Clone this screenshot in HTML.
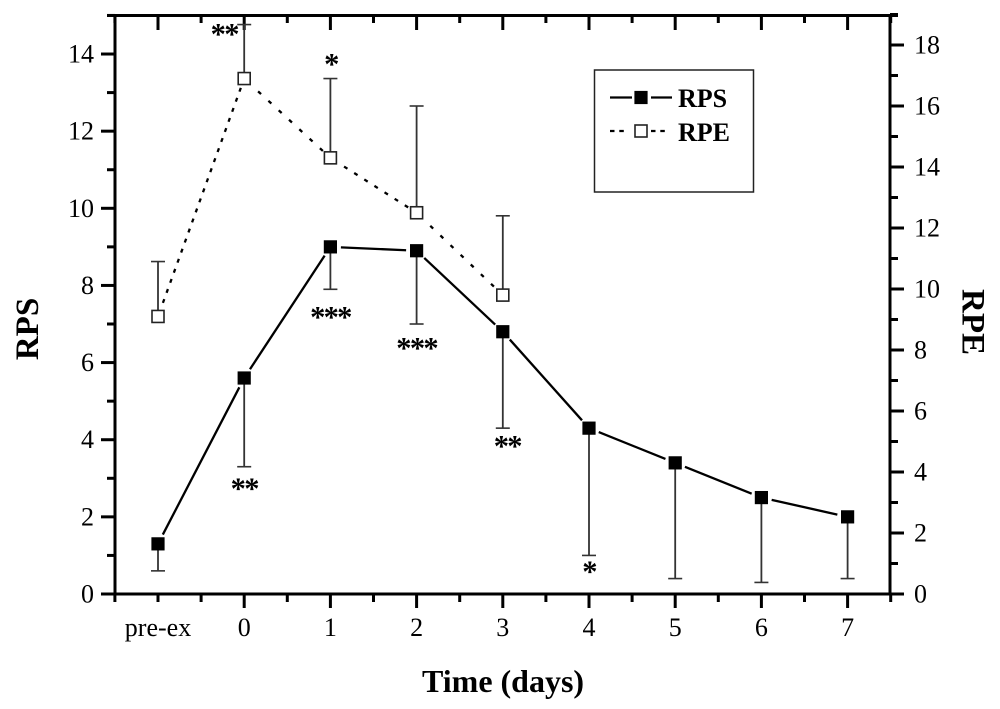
<!DOCTYPE html>
<html lang="en">
<head>
<meta charset="utf-8">
<title>RPS and RPE over time</title>
<style>
html,body{margin:0;padding:0;background:#fff;}
#chart{display:block;width:1000px;height:709px;filter:blur(0.35px);}
text{font-family:"Liberation Serif",serif;fill:#000;}
</style>
</head>
<body>
<svg id="chart" xmlns="http://www.w3.org/2000/svg" width="1000" height="709" viewBox="0 0 1000 709"></svg>
<script>
const categories = ['pre-ex', '0', '1', '2', '3', '4', '5', '6', '7'];
const rpsValues = [1.3, 5.6, 9.0, 8.9, 6.8, 4.3, 3.4, 2.5, 2.0];
const rpsErrorEnds = [0.6, 3.3, 7.9, 7.0, 4.3, 1.0, 0.4, 0.3, 0.4];
const rpeValues = [9.1, 16.9, 14.3, 12.5, 9.8];
const rpeErrorEnds = [10.9, 18.67, 16.9, 16.0, 12.4];
const rpsStarLabels = ['', '**', '***', '***', '**', '*'];
const rpsStarValues = [null, 2.8, 7.25, 6.45, 3.9, 0.65];
const rpeStarLabels = ['', '**', '*'];
const rpeStarValues = [null, 18.45, 17.47];
const leftTicks = [0, 2, 4, 6, 8, 10, 12, 14];
const leftMinorTicks = [1, 3, 5, 7, 9, 11, 13, 15];
const rightTicks = [0, 2, 4, 6, 8, 10, 12, 14, 16, 18];
const rightMinorTicks = [1, 3, 5, 7, 9, 11, 13, 15, 17, 19];

const NS = 'http://www.w3.org/2000/svg';
const svg = document.getElementById('chart');
const plot = { left: 115, right: 890, top: 15, bottom: 594 };
const firstX = 158;
const stepX = 86.2;
const leftScale = 38.57;
const rightScale = 30.5;

function xAt(i) { return firstX + stepX * i; }
function yLeft(v) { return plot.bottom - v * leftScale; }
function yRight(v) { return plot.bottom - v * rightScale; }

function make(tag, attrs, text) {
  const el = document.createElementNS(NS, tag);
  for (const k in attrs) el.setAttribute(k, attrs[k]);
  if (text !== undefined) el.textContent = text;
  svg.appendChild(el);
  return el;
}
function line(x1, y1, x2, y2, width, color, name, dash) {
  const a = { x1: x1, y1: y1, x2: x2, y2: y2, stroke: color, 'stroke-width': width };
  if (dash) a['stroke-dasharray'] = dash;
  const el = make('line', a);
  
  
  return el;
}
function label(x, y, size, weight, anchor, str, name, transform) {
  const a = { x: x, y: y, 'font-size': size, 'font-weight': weight, 'text-anchor': anchor };
  if (transform) a.transform = transform;
  const el = make('text', a, str);
  
  
  return el;
}
function segment(x1, y1, x2, y2, startGap, endGap, width, name, dash) {
  const dx = x2 - x1, dy = y2 - y1, d = Math.hypot(dx, dy);
  if (d <= startGap + endGap) return;
  const ux = dx / d, uy = dy / d;
  line(x1 + ux * startGap, y1 + uy * startGap, x2 - ux * endGap, y2 - uy * endGap, width, '#000', name, dash);
}
function dashedSegment(x1, y1, x2, y2, name) {
  const slope = Math.abs((y2 - y1) / (x2 - x1));
  const period = slope > 2 ? 10.7 : (slope > 0.8 ? 14 : 12);
  segment(x1, y1, x2, y2, period * 1.35, 9, 2.3, name, '4 ' + (period - 4));
}
function errorBar(x, y1, y2, name) {
  line(x, y1, x, y2, 1.8, '#333', name);
  line(x - 7, y2, x + 7, y2, 1.6, '#333', name + '-cap');
}
function filledMarker(x, y, name) {
  const el = make('rect', { x: x - 6.6, y: y - 6.6, width: 13.2, height: 13.2, fill: '#000' });
  
  
}
function openMarker(x, y, name) {
  const el = make('rect', { x: x - 6, y: y - 6, width: 12, height: 12, fill: '#fff', stroke: '#222', 'stroke-width': 1.6 });
  
  
}
function stars(x, y, str, name) {
  const el = label(x, y + 12.6, 30.5, 'bold', 'middle', str, name);
  el.setAttribute('letter-spacing', '-1.7');
}

/* axes frame */
line(plot.left, plot.top - 1, plot.left, plot.bottom + 1, 3, '#000', 'left-axis');
line(plot.right, plot.top - 1, plot.right, plot.bottom + 1, 3, '#000', 'right-axis');
line(plot.left - 8, plot.top + 0.5, plot.right + 8, plot.top + 0.5, 3, '#000', 'top-axis');
line(plot.left - 2, plot.bottom, plot.right + 2, plot.bottom, 3, '#000', 'bottom-axis');

/* left axis ticks */
leftTicks.forEach(function (v) {
  const y = yLeft(v);
  line(plot.left - 14, y, plot.left, y, 3, '#000', 'left-major-tick');
  label(plot.left - 21, y + 8.5, 26, 'normal', 'end', String(v), 'left-tick-label');
});
leftMinorTicks.forEach(function (v) {
  const y = yLeft(v);
  line(plot.left - 8, y, plot.left, y, 3, '#000', 'left-minor-tick');
});

/* right axis ticks */
rightTicks.forEach(function (v) {
  const y = yRight(v);
  line(plot.right, y, plot.right + 14, y, 3, '#000', 'right-major-tick');
  label(plot.right + 24, y + 8.5, 26, 'normal', 'start', String(v), 'right-tick-label');
});
rightMinorTicks.forEach(function (v) {
  const y = yRight(v);
  line(plot.right, y, plot.right + 8, y, 3, '#000', 'right-minor-tick');
});

/* x axis ticks */
categories.forEach(function (c, i) {
  const x = xAt(i);
  line(x, plot.bottom, x, plot.bottom + (i === 0 ? 8 : 14), 3, '#000', 'bottom-major-tick');
  line(x, plot.top, x, plot.top + 15, 3, '#000', 'top-major-tick');
  label(x, 636, 26, 'normal', 'middle', c, 'x-tick-label');
});
for (let i = -0.5; i < categories.length; i += 1) {
  const x = xAt(i);
  line(x, plot.bottom, x, plot.bottom + 8, 3, '#000', 'bottom-minor-tick');
  line(x, plot.top, x, plot.top + 8, 3, '#000', 'top-minor-tick');
}

/* RPE series */
rpeValues.forEach(function (v, i) {
  errorBar(xAt(i), yRight(v), yRight(rpeErrorEnds[i]), 'rpe-error-bar');
});
rpeValues.forEach(function (v, i) {
  if (i > 0) dashedSegment(xAt(i - 1), yRight(rpeValues[i - 1]), xAt(i), yRight(v), 'rpe-line');
});
rpeValues.forEach(function (v, i) {
  openMarker(xAt(i), yRight(v), 'rpe-point');
});

/* RPS series */
rpsValues.forEach(function (v, i) {
  errorBar(xAt(i), yLeft(v), yLeft(rpsErrorEnds[i]), 'rps-error-bar');
});
rpsValues.forEach(function (v, i) {
  if (i > 0) segment(xAt(i - 1), yLeft(rpsValues[i - 1]), xAt(i), yLeft(v), 10.5, 10.5, 2.3, 'rps-line');
});
rpsValues.forEach(function (v, i) {
  filledMarker(xAt(i), yLeft(v), 'rps-point');
});

/* significance stars */
rpsStarLabels.forEach(function (s, i) {
  if (s) stars(xAt(i) + (s.length === 2 && i > 1 ? 4.5 : 0), yLeft(rpsStarValues[i]), s, 'rps-significance-stars');
});
rpeStarLabels.forEach(function (s, i) {
  if (s) stars(xAt(i) + (s.length === 2 ? -20 : 0.5), yRight(rpeStarValues[i]), s, 'rpe-significance-stars');
});

/* axis titles */
label(422, 692, 32, 'bold', 'start', 'Time (days)', 'x-axis-title');
label(0, 0, 33, 'bold', 'middle', 'RPS', 'left-axis-title', 'translate(38 329) rotate(-90)');
label(0, 0, 33, 'bold', 'middle', 'RPE', 'right-axis-title', 'translate(962.5 322) rotate(90)');

/* legend */
const legendBox = make('rect', { x: 594.5, y: 70, width: 159, height: 122, fill: '#fff', stroke: '#222', 'stroke-width': 1.5 });


line(610, 97.5, 632, 97.5, 2.2, '#000', 'legend-rps-line-left');
line(651, 97.5, 672, 97.5, 2.2, '#000', 'legend-rps-line-right');
filledMarker(641, 97.5, 'legend-rps-marker');
label(678, 107, 26, 'bold', 'start', 'RPS', 'legend-rps-label');
line(610, 131, 625, 131, 2.2, '#000', 'legend-rpe-line-left', '4.5 4.8');
line(651, 131, 666, 131, 2.2, '#000', 'legend-rpe-line-right', '4.5 4.8');
openMarker(641, 131, 'legend-rpe-marker');
label(678, 141, 26, 'bold', 'start', 'RPE', 'legend-rpe-label');
</script>
</body>
</html>
